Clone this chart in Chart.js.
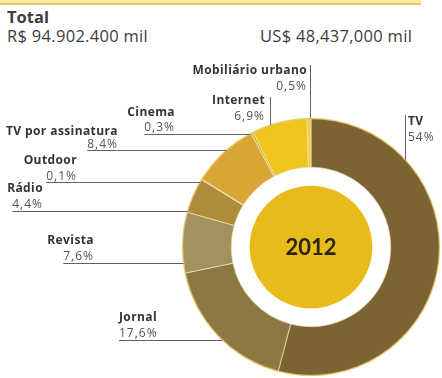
<!DOCTYPE html>
<html>
<head>
<meta charset="utf-8">
<script src="https://cdn.jsdelivr.net/npm/chart.js@4.4.0/dist/chart.umd.min.js"></script>
<style>
  html, body { margin: 0; padding: 0; background: #fff; }
  #wrap { position: relative; width: 442px; height: 378px; overflow: hidden; font-family: "Open Sans", Lato, sans-serif; }
  #band { position: absolute; left: 0; top: 0; width: 421px; height: 3px; background: #f8eaae; border-bottom: 2px solid #e6c75a; }
  .h { position: absolute; color: #3d3d3d; white-space: nowrap; line-height: 1; }
  #total { left: 7px; top: 9px; font-size: 16.5px; font-weight: 700; }
  #brl { left: 7px; top: 28px; font-size: 16.5px; letter-spacing: 0.3px; }
  #usd { left: 260px; top: 28px; font-size: 16.5px; letter-spacing: 0.3px; }
  canvas { position: absolute; left: 0; top: 0; }
</style>
</head>
<body>
<div id="wrap">
  <div id="band"></div>
  <div class="h" id="total">Total</div>
  <div class="h" id="brl">R$ 94.902.400 mil</div>
  <div class="h" id="usd">US$ 48,437,000 mil</div>
  <canvas id="c" width="442" height="378"></canvas>
</div>
<script>
// Advertising spend share by medium, 2012 (percent of total)
const categories = ['TV', 'Jornal', 'Revista', 'Rádio', 'Outdoor', 'TV por assinatura', 'Cinema', 'Internet', 'Mobiliário urbano'];
const shares = [54, 17.6, 7.6, 4.4, 0.1, 8.4, 0.3, 6.9, 0.5];
const yearLabel = '2012';

const sliceColors = ['#7b6334', '#8d7844', '#a3925f', '#ae8c3c', '#c29c42', '#d9a634', '#e2b330', '#efc51e', '#f2d040'];

// Where each callout sits: 'h' = text stacked with an underline running to the ring,
// 'v' = text beside a vertical rule dropping onto the ring.
const calloutLayout = [
  { kind: 'v', x: 405, top: 115, textX: 408, nameY: 125, valY: 141, align: 'left' },   // TV
  { kind: 'h', right: 157, nameY: 321, valY: 337, lineY: 340, align: 'left', left: 119 }, // Jornal
  { kind: 'h', right: 94,  nameY: 244, valY: 260, lineY: 263 },                          // Revista
  { kind: 'h', right: 43,  nameY: 192, valY: 208, lineY: 211 },                          // Rádio
  { kind: 'h', right: 77,  nameY: 164, valY: 180, lineY: 182 },                          // Outdoor
  { kind: 'h', right: 118, nameY: 135, valY: 148, lineY: 150 },                          // TV por assinatura
  { kind: 'h', right: 175, nameY: 116, valY: 131, lineY: 134 },                          // Cinema
  { kind: 'v', x: 270, top: 97, textX: 265, nameY: 104, valY: 120, align: 'right' },     // Internet
  { kind: 'v', x: 310, top: 65, textX: 307, nameY: 74, valY: 90, align: 'right' }        // Mobiliário urbano
];

const fmtShare = v => String(v).replace('.', ',') + '%';

const decorations = {
  id: 'decorations',
  afterDatasetsDraw(chart) {
    const ctx = chart.ctx;
    const arcs = chart.getDatasetMeta(0).data;
    const a0 = arcs[0];
    const cx = a0.x, cy = a0.y, R = a0.outerRadius, r = a0.innerRadius;

    ctx.save();
    // soft golden rim around the ring
    ctx.beginPath();
    ctx.arc(cx, cy, R, 0, Math.PI * 2);
    ctx.strokeStyle = 'rgba(226,186,70,0.55)';
    ctx.lineWidth = 1.5;
    ctx.stroke();

    // gold disc in the hole
    ctx.beginPath();
    ctx.arc(cx, cy, r * 0.77, 0, Math.PI * 2);
    ctx.fillStyle = '#e8bb1d';
    ctx.fill();

    ctx.fillStyle = '#2b2412';
    ctx.font = 'bold 22px Lato, "Open Sans", sans-serif';
    ctx.textAlign = 'center';
    ctx.textBaseline = 'middle';
    ctx.fillText(yearLabel, cx, cy + 1);

    // callouts
    ctx.textBaseline = 'alphabetic';
    const nameFont = 'bold 12px "Open Sans", Lato, sans-serif';
    const valFont = '12px "Open Sans", Lato, sans-serif';
    const setName = () => { ctx.font = nameFont; ctx.fillStyle = '#343434'; ctx.letterSpacing = '0.4px'; };
    const setVal = () => { ctx.font = valFont; ctx.fillStyle = '#545454'; ctx.letterSpacing = '1px'; };
    ctx.lineWidth = 1;
    ctx.strokeStyle = '#5e6170';
    categories.forEach((name, i) => {
      const L = calloutLayout[i];
      const val = fmtShare(shares[i]);
      if (L.kind === 'h') {
        ctx.textAlign = L.align === 'left' ? 'left' : 'right';
        const tx = L.align === 'left' ? L.left : L.right;
        setName();
        ctx.fillText(name, tx, L.nameY);
        setVal();
        ctx.fillText(val, tx, L.valY);
        const vw = ctx.measureText(val).width;
        const x0 = L.align === 'left' ? L.left : L.right - vw;
        const dy = L.lineY - cy;
        const x1 = cx - Math.sqrt(Math.max(R * R - dy * dy, 0));
        ctx.beginPath();
        ctx.moveTo(x0, L.lineY + 0.5);
        ctx.lineTo(x1, L.lineY + 0.5);
        ctx.stroke();
      } else {
        const dx = L.x - cx;
        const y1 = cy - Math.sqrt(Math.max(R * R - dx * dx, 0));
        ctx.beginPath();
        ctx.moveTo(L.x + 0.5, L.top);
        ctx.lineTo(L.x + 0.5, y1);
        ctx.stroke();
        ctx.textAlign = L.align;
        setName();
        ctx.fillText(name, L.textX, L.nameY);
        setVal();
        ctx.fillText(val, L.textX, L.valY);
      }
    });
    ctx.restore();
  }
};

new Chart(document.getElementById('c'), {
  type: 'doughnut',
  data: {
    labels: categories,
    datasets: [{
      data: shares,
      backgroundColor: sliceColors,
      borderColor: 'rgba(238,228,190,0.7)',
      borderWidth: 1
    }]
  },
  options: {
    responsive: false,
    animation: false,
    cutout: '62%',
    layout: { padding: { left: 182, top: 118, right: 2, bottom: 2 } },
    plugins: { legend: { display: false }, tooltip: { enabled: false } }
  },
  plugins: [decorations]
});
</script>
</body>
</html>
